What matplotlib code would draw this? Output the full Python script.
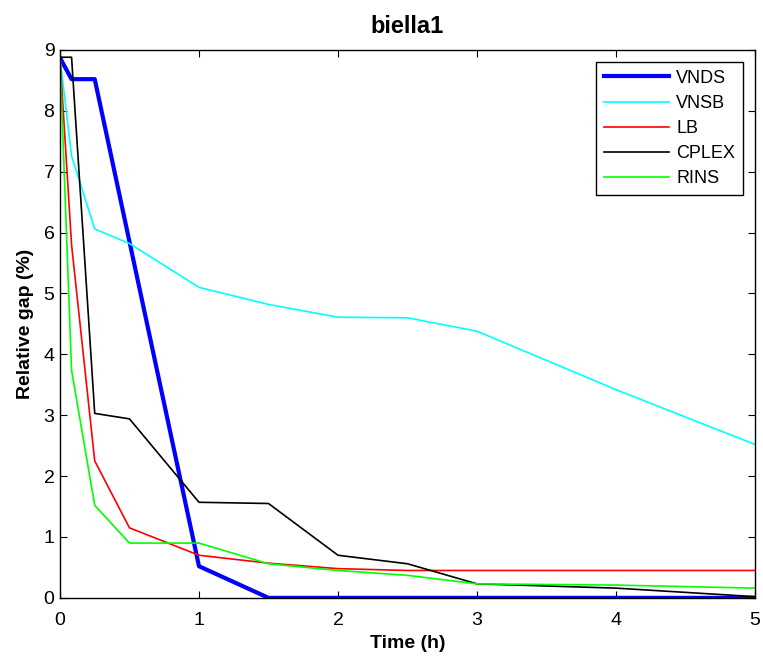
import matplotlib
matplotlib.use("Agg")
import matplotlib.pyplot as plt

plt.rcParams['font.family'] = ['Liberation Sans', 'DejaVu Sans']

# time checkpoints (h): 0, 5 min, 15 min, 30 min, 1h, ...
time = [0, 1 / 12, 0.25, 0.5, 1, 1.5, 2, 2.5, 3, 4, 5]

vnds = [8.87, 8.52, 8.52, 5.85, 0.52, 0.0, 0.0, 0.0, 0.0, 0.0, 0.0]
vnsb = [8.87, 7.26, 6.06, 5.82, 5.10, 4.82, 4.61, 4.60, 4.38, 3.42, 2.52]
lb = [8.87, 5.8, 2.25, 1.15, 0.70, 0.57, 0.48, 0.45, 0.45, 0.45, 0.45]
cplex = [8.88, 8.88, 3.03, 2.94, 1.57, 1.55, 0.70, 0.56, 0.23, 0.16, 0.02]
rins = [8.87, 3.74, 1.52, 0.90, 0.90, 0.56, 0.45, 0.37, 0.23, 0.21, 0.16]

series = [
    ('VNDS', vnds, '#0000ff', 3.0),
    ('VNSB', vnsb, '#00ffff', 1.2),
    ('LB', lb, '#ff0000', 1.2),
    ('CPLEX', cplex, '#000000', 1.2),
    ('RINS', rins, '#00ff00', 1.2),
]

fig = plt.figure(figsize=(7.63, 6.57), dpi=100)
ax = fig.add_axes([0.0786, 0.090, 0.911, 0.834])

for name, vals, col, lw in series:
    ax.plot(time, vals, color=col, lw=lw, label=name)

ax.set_xlim(0, 5)
ax.set_ylim(0, 9)
ax.set_xticks(range(0, 6))
ax.set_yticks(range(0, 10))
ax.tick_params(direction='in', top=True, right=True, labelsize=14, length=5)
ax.tick_params(axis='x', pad=10.5)
ax.tick_params(axis='y', pad=4)
for s in ax.spines.values():
    s.set_linewidth(1.0)

ax.set_title('biella1', fontsize=17, fontweight='bold', pad=12.5)
ax.set_xlabel('Time (h)', fontsize=14, fontweight='bold', labelpad=4)
ax.set_ylabel('Relative gap (%)', fontsize=14, fontweight='bold', labelpad=7)

leg = ax.legend(loc='upper right', fontsize=13, fancybox=False, framealpha=1,
                edgecolor='black', borderaxespad=0.65, handlelength=3.6,
                labelspacing=0.45, handletextpad=0.4, borderpad=0.45)
leg.get_frame().set_linewidth(1.0)

fig.savefig('out.png', dpi=100)
